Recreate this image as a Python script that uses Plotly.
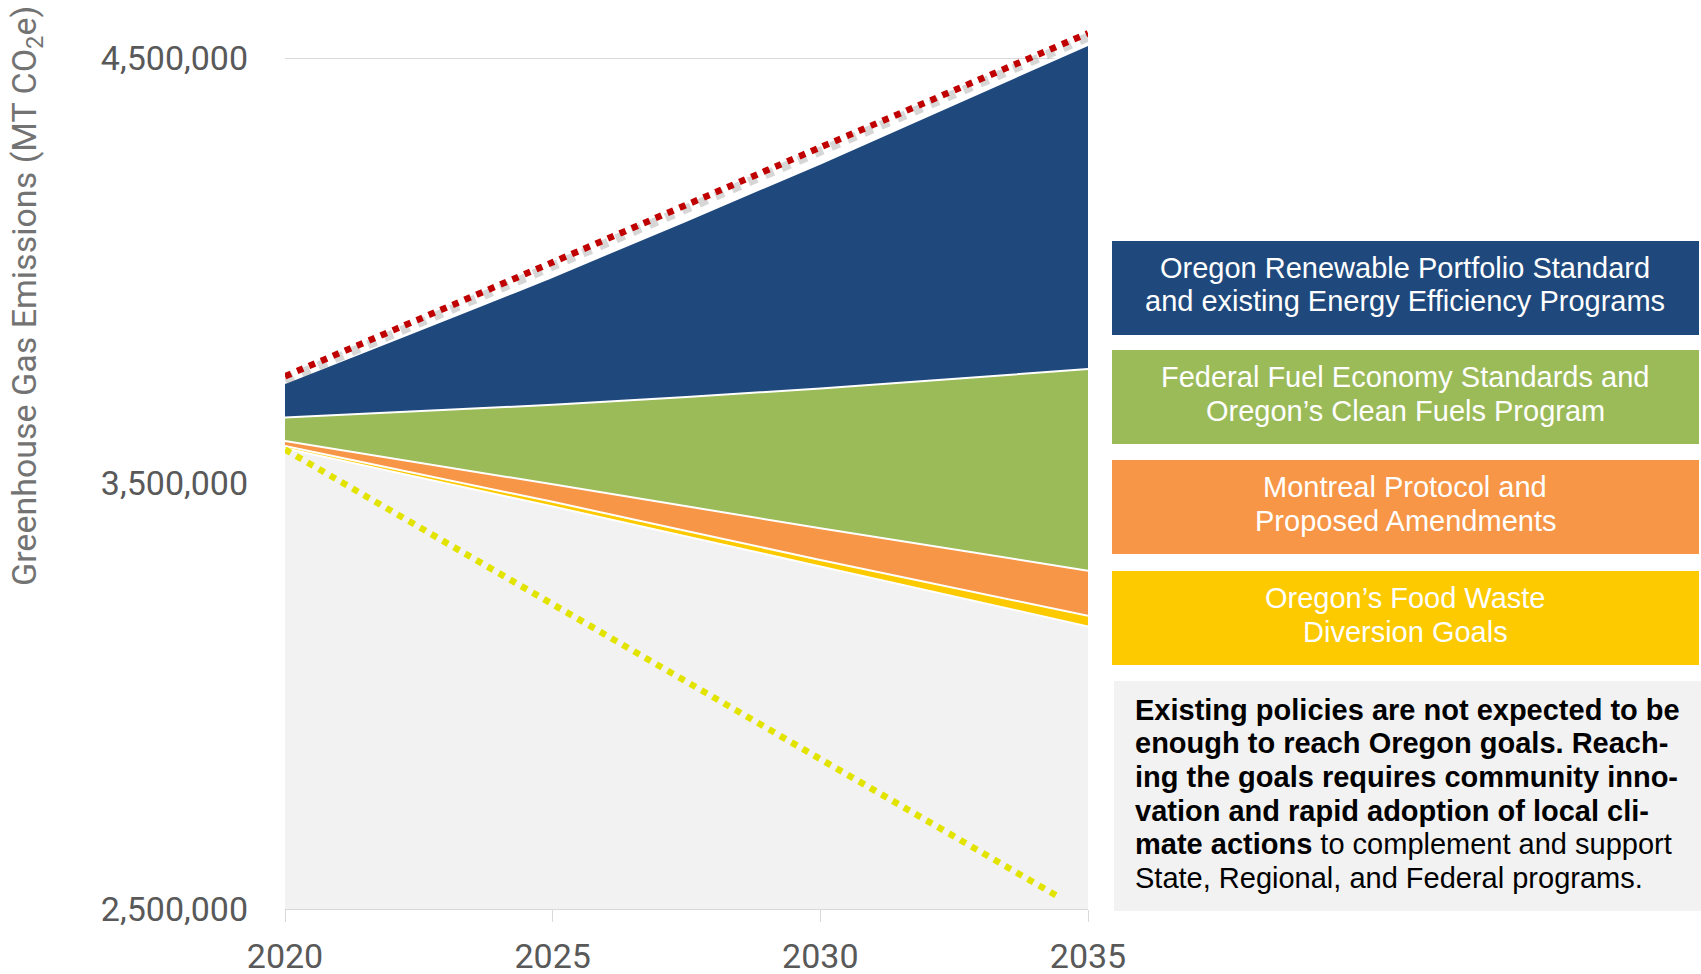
import plotly.graph_objects as go

# Projection years
years = [2020, 2025, 2030, 2035]

# Top edge of each stacked band, MT CO2e
remaining = [3583000, 3446000, 3305000, 3164000]        # emissions left after all policies
food_waste_top = [3588000, 3457000, 3320000, 3189000]   # + Food Waste Diversion Goals
montreal_top = [3600000, 3498000, 3395000, 3295000]     # + Montreal Protocol
fuel_top = [3655000, 3685000, 3723000, 3769000]         # + Fuel Economy / Clean Fuels
rps_top = [3736000, 3986000, 4252000, 4531000]          # + RPS and Energy Efficiency

# Business-as-usual forecast
business_as_usual = [3752000, 4020000, 4290000, 4558000]

# Oregon goal trajectory
goal_years = [2020, 2034.5]
goal = [3580000, 2525000]

x_ticks = [2020, 2025, 2030, 2035]
y_ticks = [2500000, 3500000, 4500000]

legend_labels = [
    ("Oregon Renewable Portfolio Standard", "and existing Energy Efficiency Programs"),
    ("Federal Fuel Economy Standards and", "Oregon\u2019s Clean Fuels Program"),
    ("Montreal Protocol and", "Proposed Amendments"),
    ("Oregon\u2019s Food Waste", "Diversion Goals"),
]

note_lines = [
    "<b>Existing policies are not expected to be</b>",
    "<b>enough to reach Oregon goals. Reach-</b>",
    "<b>ing the goals requires community inno-</b>",
    "<b>vation and rapid adoption of local cli-</b>",
    "<b>mate actions</b> to complement and support",
    "State, Regional, and Federal programs.",
]

NAVY = "#1F497D"
GREEN = "#9BBB59"
ORANGE = "#F79646"
YELLOW = "#FDCA00"
GREY_FILL = "#F2F2F2"
RED = "#C00000"
GOAL_YELLOW = "#E3E300"
legend_colors = [NAVY, GREEN, ORANGE, YELLOW]

W, H = 1701, 974
L, R, T, B = 285, 1088, 15, 909   # plot area in pixels
PX_PER_MT = 851.0 / 2000000       # vertical scale


def px(x):
    return (x - L) / (R - L)


def py(y):
    return (B - y) / (B - T)


fig = go.Figure()

band_line = dict(color="white", width=2, shape="spline", smoothing=0.6)

fig.add_trace(go.Scatter(x=years, y=remaining, mode="lines", fill="tozeroy",
                         fillcolor=GREY_FILL, line=band_line, hoverinfo="skip"))
for top, color in [(food_waste_top, YELLOW), (montreal_top, ORANGE),
                   (fuel_top, GREEN), (rps_top, NAVY)]:
    fig.add_trace(go.Scatter(x=years, y=top, mode="lines", fill="tonexty",
                             fillcolor=color, line=band_line, hoverinfo="skip"))

# goal trajectory
fig.add_trace(go.Scatter(x=goal_years, y=goal, mode="lines",
                         line=dict(color=GOAL_YELLOW, width=6.5, dash="dot"),
                         hoverinfo="skip"))

# soft drop shadow under the forecast line
shadow = [v - 9000 for v in business_as_usual]
fig.add_trace(go.Scatter(x=years, y=shadow, mode="lines",
                         line=dict(color="rgba(90,90,90,0.25)", width=9, dash="dot",
                                   shape="spline", smoothing=0.6),
                         hoverinfo="skip"))
fig.add_trace(go.Scatter(x=years, y=business_as_usual, mode="lines",
                         line=dict(color=RED, width=6.5, dash="dot",
                                   shape="spline", smoothing=0.6),
                         hoverinfo="skip"))

shapes = []
annotations = []

# legend boxes
box_tops = [241, 350, 460, 571]
box_h = 94
for (l1, l2), color, top in zip(legend_labels, legend_colors, box_tops):
    shapes.append(dict(type="rect", xref="paper", yref="paper",
                       x0=px(1112), x1=px(1699), y0=py(top + box_h), y1=py(top),
                       fillcolor=color, line=dict(width=0), layer="above"))
    cy = top + box_h / 2
    for text, dy in [(l1, -20), (l2, 13.5)]:
        annotations.append(dict(xref="paper", yref="paper", x=px(1405), y=py(cy + dy),
                                text=text, showarrow=False, xanchor="center",
                                yanchor="middle",
                                font=dict(family="Liberation Sans, Arial", size=29,
                                          color="white")))

# note box
shapes.append(dict(type="rect", xref="paper", yref="paper",
                   x0=px(1114), x1=px(1701), y0=py(911), y1=py(681),
                   fillcolor=GREY_FILL, line=dict(width=0), layer="above"))
for i, text in enumerate(note_lines):
    annotations.append(dict(xref="paper", yref="paper", x=px(1133), y=py(709.5 + i * 33.7),
                            text=text, showarrow=False, xanchor="left", yanchor="middle",
                            font=dict(family="Liberation Sans, Arial", size=29,
                                      color="black")))

# y-axis title
annotations.append(dict(xref="paper", yref="paper", x=px(26), y=py(296),
                        text="Greenhouse Gas Emissions (MT CO<sub>2</sub>e)",
                        textangle=-90, showarrow=False, xanchor="center",
                        yanchor="middle",
                        font=dict(family="Roboto", size=34, color="#737373")))

fig.update_layout(
    width=W, height=H, autosize=False,
    margin=dict(l=L, r=W - R, t=T, b=H - B, pad=0),
    paper_bgcolor="white", plot_bgcolor="white",
    showlegend=False, hovermode=False,
    shapes=shapes, annotations=annotations,
    font=dict(family="Roboto", color="#595959"),
)

fig.update_xaxes(range=[2020, 2035], tickvals=x_ticks, ticktext=[str(t) for t in x_ticks],
                 automargin=False,
                 showgrid=False, zeroline=False, showline=True, linecolor="#D9D9D9",
                 linewidth=1, ticks="outside", ticklen=12, tickcolor="#D9D9D9",
                 tickwidth=1, ticklabelstandoff=5,
                 tickfont=dict(family="Roboto", size=34, color="#595959"))

fig.update_yaxes(range=[2500000, 2500000 + (B - T) / PX_PER_MT],
                 tickvals=y_ticks, tickformat=",d", automargin=False,
                 showgrid=True, gridcolor="#D9D9D9", gridwidth=1, zeroline=False,
                 showline=False, ticks="", ticklabelstandoff=36,
                 tickfont=dict(family="Roboto", size=34, color="#595959"))

fig.write_html("out.html", config={"displayModeBar": False})
